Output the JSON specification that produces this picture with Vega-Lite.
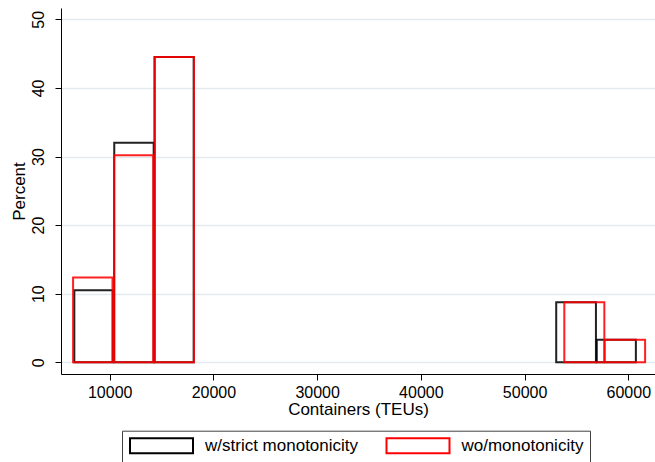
{
  "$schema": "https://vega.github.io/schema/vega-lite/v6.json",
  "autosize": {"type": "none"},
  "padding": {"left": 61, "top": 8, "right": 0, "bottom": 88},
  "width": 594,
  "height": 366,
  "background": "white",
  "config": {
    "font": "Liberation Sans",
    "view": {"stroke": null},
    "axis": {
      "domainColor": "black",
      "domainWidth": 1,
      "tickColor": "black",
      "tickWidth": 1,
      "tickSize": 6,
      "labelColor": "black",
      "titleColor": "black",
      "labelFontSize": 16,
      "titleFontSize": 17,
      "titleFontWeight": "normal"
    },
    "legend": {
      "symbolType": "M-0.933,-1H7.467V1H-0.933Z",
      "symbolSize": 225,
      "symbolStrokeWidth": 2,
      "labelFontSize": 17,
      "labelColor": "black",
      "labelLimit": 300
    }
  },
  "data": {
    "values": [
      {"series": "w/strict monotonicity", "bin_start": 6590, "bin_end": 10300, "percent": 10.5},
      {"series": "w/strict monotonicity", "bin_start": 10440, "bin_end": 14240, "percent": 32.0},
      {"series": "w/strict monotonicity", "bin_start": 14330, "bin_end": 18100, "percent": 44.5},
      {"series": "w/strict monotonicity", "bin_start": 53050, "bin_end": 56880, "percent": 8.75},
      {"series": "w/strict monotonicity", "bin_start": 56960, "bin_end": 60730, "percent": 3.3},
      {"series": "wo/monotonicity", "bin_start": 6470, "bin_end": 10270, "percent": 12.35},
      {"series": "wo/monotonicity", "bin_start": 10420, "bin_end": 14200, "percent": 30.2},
      {"series": "wo/monotonicity", "bin_start": 14330, "bin_end": 18120, "percent": 44.5},
      {"series": "wo/monotonicity", "bin_start": 53830, "bin_end": 57690, "percent": 8.75},
      {"series": "wo/monotonicity", "bin_start": 57720, "bin_end": 61620, "percent": 3.3}
    ]
  },
  "mark": {"type": "rect", "filled": false, "strokeWidth": 2, "strokeOpacity": 0.87},
  "encoding": {
    "x": {
      "field": "bin_start",
      "type": "quantitative",
      "scale": {"domain": [5305, 62574], "nice": false, "zero": false},
      "axis": {
        "title": "Containers (TEUs)",
        "values": [10000, 20000, 30000, 40000, 50000, 60000],
        "format": "d",
        "grid": false,
        "labelPadding": 4,
        "titlePadding": 1
      }
    },
    "x2": {"field": "bin_end"},
    "y": {
      "field": "percent",
      "type": "quantitative",
      "scale": {"domain": [-1.7, 51.65], "nice": false, "zero": false},
      "axis": {
        "title": "Percent",
        "values": [0, 10, 20, 30, 40, 50],
        "grid": true,
        "gridColor": "#e3eaee",
        "gridWidth": 1.5,
        "labelAngle": -90,
        "labelAlign": "center",
        "labelBaseline": "alphabetic",
        "labelPadding": 12,
        "titleBaseline": "alphabetic",
        "titlePadding": 6
      }
    },
    "y2": {"datum": 0},
    "stroke": {
      "field": "series",
      "type": "nominal",
      "scale": {"domain": ["w/strict monotonicity", "wo/monotonicity"], "range": ["#000000", "#ff0000"]},
      "legend": {
        "title": null,
        "orient": "none",
        "direction": "horizontal",
        "legendX": 61,
        "legendY": 422.7,
        "padding": 6.5,
        "labelOffset": 59.5,
        "columnPadding": 23.5,
        "strokeColor": "#404040",
        "fillColor": "white"
      }
    }
  }
}
